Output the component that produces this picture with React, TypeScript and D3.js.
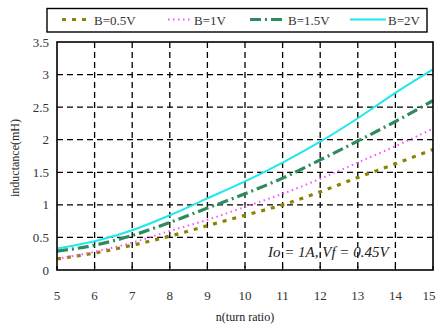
import React from "react";
import * as d3 from "d3";

const nValues = [5, 6, 7, 8, 9, 10, 11, 12, 13, 14, 15];
const b05 = [0.17, 0.26, 0.38, 0.52, 0.68, 0.84, 1.0, 1.2, 1.42, 1.63, 1.85];
const b1 = [0.17, 0.28, 0.42, 0.6, 0.77, 0.97, 1.17, 1.4, 1.65, 1.9, 2.17];
const b15 = [0.29, 0.38, 0.53, 0.73, 0.95, 1.17, 1.41, 1.69, 1.98, 2.28, 2.6];
const b2 = [0.33, 0.44, 0.61, 0.84, 1.1, 1.36, 1.65, 1.97, 2.33, 2.72, 3.08];
const xTicks = [5, 6, 7, 8, 9, 10, 11, 12, 13, 14, 15];
const yTicks = [0, 0.5, 1, 1.5, 2, 2.5, 3, 3.5];
const yTickLabels = ["0", "0.5", "1", "1.5", "2", "2.5", "3", "3.5"];

const seriesList = [
  { name: "B=0.5V", values: b05, color: "#8a8400", width: 3.2, dash: "4,6" },
  { name: "B=1V", values: b1, color: "#ff4dff", width: 2, dash: "1.5,3.5" },
  { name: "B=1.5V", values: b15, color: "#2e8b5e", width: 3.2, dash: "11,4,2,4" },
  { name: "B=2V", values: b2, color: "#1ee8ec", width: 2, dash: "" },
];

const left = 57, right = 433, top = 42, bottom = 270;
const FONT = "'Liberation Serif', 'Times New Roman', serif";

export default function App() {
  const x = d3.scaleLinear().domain([5, 15]).range([left, right]);
  const y = d3.scaleLinear().domain([0, 3.5]).range([bottom, top]);
  const line = d3
    .line<number>()
    .x((_, i) => x(nValues[i]))
    .y((d) => y(d))
    .curve(d3.curveMonotoneX);
  const fs = (size: number, extra: React.CSSProperties = {}) => ({ fontFamily: FONT, fontSize: size, ...extra });
  const legendX = [62, 168, 250, 350];
  const legendLen = [30, 24, 36, 36];
  return (
    <svg width={437} height={325} style={{ position: "absolute", left: 0, top: 0, background: "#fff" }}>
      <rect x={0} y={0} width={437} height={325} fill="#fff" />
      {xTicks.slice(1, -1).map((t) => (
        <line key={"gx" + t} x1={x(t)} x2={x(t)} y1={top} y2={bottom} stroke="#000" strokeWidth={1.3} strokeDasharray="6,4" />
      ))}
      {yTicks.slice(1, -1).map((t) => (
        <line key={"gy" + t} x1={left} x2={right} y1={y(t)} y2={y(t)} stroke="#000" strokeWidth={1.3} strokeDasharray="6,4" />
      ))}
      {xTicks.map((t) => (
        <line key={"tx" + t} x1={x(t)} x2={x(t)} y1={bottom} y2={bottom - 4} stroke="#000" strokeWidth={1.2} />
      ))}
      {seriesList.map((s) => (
        <path key={s.name} d={line(s.values) || ""} fill="none" stroke={s.color} strokeWidth={s.width} strokeDasharray={s.dash || undefined} />
      ))}
      <rect x={left} y={top} width={right - left} height={bottom - top} fill="none" stroke="#000" strokeWidth={1.6} />
      {yTicks.map((t, i) => (
        <text key={"yl" + t} x={49} y={y(t) + 4.5} textAnchor="end" style={fs(13)} fill="#333">
          {yTickLabels[i]}
        </text>
      ))}
      {xTicks.map((t) => (
        <text key={"xl" + t} x={Math.min(x(t), 429)} y={300} textAnchor="middle" style={fs(13)} fill="#333">
          {t}
        </text>
      ))}
      <text x={245} y={321} textAnchor="middle" style={fs(12)} fill="#222">
        n(turn ratio)
      </text>
      <text transform="translate(19,158) rotate(-90)" textAnchor="middle" style={fs(12)} fill="#222">
        inductance(mH)
      </text>
      <text x={268} y={257} style={fs(15, { fontStyle: "italic" })} fill="#222">
        Io = 1A,  Vf = 0.45V
      </text>
      <rect x={47} y={8.5} width={380} height={23.5} fill="#fff" stroke="#000" strokeWidth={1.4} />
      {seriesList.map((s, i) => (
        <g key={"lg" + s.name}>
          <line x1={legendX[i]} x2={legendX[i] + legendLen[i]} y1={19.5} y2={19.5} stroke={s.color} strokeWidth={s.width} strokeDasharray={s.dash || undefined} />
          <text x={legendX[i] + legendLen[i] + 2} y={24.5} style={fs(13)} fill="#333">
            {s.name}
          </text>
        </g>
      ))}
    </svg>
  );
}
